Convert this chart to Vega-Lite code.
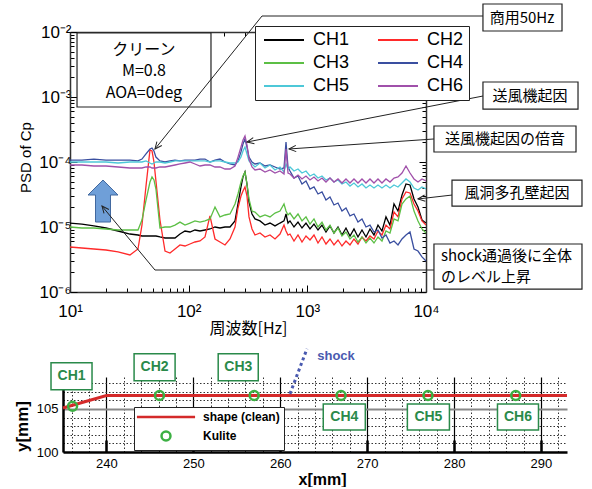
{
"$schema":"https://vega.github.io/schema/vega-lite/v6.json",
"background":"white",
"padding":{"left":12,"top":3,"right":0,"bottom":0},
"columns":1,
"align":"none",
"spacing":6,
"resolve":{"scale":{"color":"independent","shape":"independent","size":"independent","angle":"independent"}},
"datasets":{
"psd":[
{"c":"CH1","f":10,"p":1.15e-5},{"c":"CH1","f":12.6,"p":1.11e-5},{"c":"CH1","f":15.9,"p":1.04e-5},{"c":"CH1","f":20.1,"p":9.65e-6},{"c":"CH1","f":25.4,"p":8.68e-6},{"c":"CH1","f":32,"p":7.80e-6},{"c":"CH1","f":37.4,"p":7.53e-6},{"c":"CH1","f":40.4,"p":7.27e-6},{"c":"CH1","f":43.7,"p":7.27e-6},{"c":"CH1","f":47.2,"p":7.27e-6},{"c":"CH1","f":49.1,"p":7.27e-6},{"c":"CH1","f":51,"p":7.27e-6},{"c":"CH1","f":53,"p":7.27e-6},{"c":"CH1","f":57.3,"p":7.02e-6},{"c":"CH1","f":63.2,"p":6.77e-6},{"c":"CH1","f":69.6,"p":6.77e-6},{"c":"CH1","f":76.7,"p":6.77e-6},{"c":"CH1","f":84.5,"p":7.80e-6},{"c":"CH1","f":93.1,"p":8.68e-6},
{"c":"CH1","f":102.6,"p":8.38e-6},{"c":"CH1","f":113,"p":8.99e-6},{"c":"CH1","f":124.6,"p":8.68e-6},{"c":"CH1","f":137.3,"p":8.99e-6},{"c":"CH1","f":151.2,"p":9.32e-6},{"c":"CH1","f":166.7,"p":1.0e-5},{"c":"CH1","f":183.6,"p":9.65e-6},{"c":"CH1","f":202.4,"p":1.0e-5},{"c":"CH1","f":223,"p":1.0e-5},{"c":"CH1","f":245.7,"p":1.24e-5},{"c":"CH1","f":260.4,"p":2.26e-5},{"c":"CH1","f":276,"p":4.13e-5},{"c":"CH1","f":287,"p":5.88e-5},{"c":"CH1","f":298.3,"p":7.02e-5},{"c":"CH1","f":310,"p":4.59e-5},{"c":"CH1","f":322.4,"p":2.42e-5},{"c":"CH1","f":341.8,"p":1.585e-5},{"c":"CH1","f":362.2,"p":1.33e-5},{"c":"CH1","f":399.2,"p":1.24e-5},{"c":"CH1","f":439.8,"p":1.07e-5},{"c":"CH1","f":484.6,"p":1.15e-5},{"c":"CH1","f":534,"p":1.04e-5},{"c":"CH1","f":588.4,"p":1.15e-5},{"c":"CH1","f":635.9,"p":1.24e-5},{"c":"CH1","f":661.1,"p":1.585e-5},{"c":"CH1","f":687.1,"p":1.15e-5},
{"c":"CH1","f":714.3,"p":1.24e-5},{"c":"CH1","f":772,"p":1.0e-5},{"c":"CH1","f":834.4,"p":1.19e-5},{"c":"CH1","f":901.6,"p":9.65e-6},{"c":"CH1","f":974.3,"p":1.15e-5},{"c":"CH1","f":1053,"p":9.32e-6},{"c":"CH1","f":1138,"p":1.11e-5},{"c":"CH1","f":1230,"p":8.99e-6},{"c":"CH1","f":1329,"p":1.07e-5},{"c":"CH1","f":1436,"p":8.38e-6},{"c":"CH1","f":1552,"p":1.04e-5},{"c":"CH1","f":1677,"p":8.09e-6},{"c":"CH1","f":1813,"p":1.0e-5},{"c":"CH1","f":1959,"p":7.53e-6},{"c":"CH1","f":2117,"p":9.65e-6},{"c":"CH1","f":2288,"p":7.27e-6},{"c":"CH1","f":2473,"p":9.32e-6},{"c":"CH1","f":2672,"p":7.02e-6},{"c":"CH1","f":2888,"p":8.99e-6},{"c":"CH1","f":3121,"p":7.02e-6},{"c":"CH1","f":3373,"p":9.32e-6},{"c":"CH1","f":3645,"p":7.53e-6},{"c":"CH1","f":3939,"p":1.07e-5},{"c":"CH1","f":4257,"p":8.68e-6},{"c":"CH1","f":4600,"p":1.43e-5},{"c":"CH1","f":4973,"p":1.07e-5},{"c":"CH1","f":5374,"p":2.26e-5},{"c":"CH1","f":5808,"p":1.76e-5},{"c":"CH1","f":6277,"p":3.11e-5},{"c":"CH1","f":6782,"p":4.59e-5},{"c":"CH1","f":7331,"p":4.43e-5},{"c":"CH1","f":7922,"p":2.70e-5},{"c":"CH1","f":8561,"p":2.03e-5},{"c":"CH1","f":9252,"p":1.28e-5},{"c":"CH1","f":10000,"p":1.15e-5},
{"c":"CH2","f":10,"p":4.92e-6},{"c":"CH2","f":12.6,"p":4.75e-6},{"c":"CH2","f":15.9,"p":4.59e-6},{"c":"CH2","f":20.1,"p":4.43e-6},{"c":"CH2","f":25.4,"p":4.13e-6},{"c":"CH2","f":32,"p":3.71e-6},{"c":"CH2","f":37.4,"p":4.59e-6},{"c":"CH2","f":40.4,"p":1.07e-5},{"c":"CH2","f":43.7,"p":4.27e-5},{"c":"CH2","f":47.2,"p":1.53e-4},{"c":"CH2","f":49.1,"p":1.48e-4},{"c":"CH2","f":51,"p":1.0e-4},{"c":"CH2","f":53,"p":5.10e-5},{"c":"CH2","f":57.3,"p":1.28e-5},{"c":"CH2","f":63.2,"p":4.27e-6},{"c":"CH2","f":69.6,"p":3.98e-6},{"c":"CH2","f":76.7,"p":4.59e-6},{"c":"CH2","f":84.5,"p":5.29e-6},{"c":"CH2","f":93.1,"p":5.10e-6},
{"c":"CH2","f":102.6,"p":5.48e-6},{"c":"CH2","f":113,"p":5.88e-6},{"c":"CH2","f":124.6,"p":6.09e-6},{"c":"CH2","f":137.3,"p":7.02e-6},{"c":"CH2","f":151.2,"p":1.48e-5},{"c":"CH2","f":166.7,"p":6.54e-6},{"c":"CH2","f":183.6,"p":5.88e-6},{"c":"CH2","f":202.4,"p":5.29e-6},{"c":"CH2","f":223,"p":6.54e-6},{"c":"CH2","f":245.7,"p":1.0e-5},{"c":"CH2","f":260.4,"p":1.96e-5},{"c":"CH2","f":276,"p":3.0e-5},{"c":"CH2","f":287,"p":3.58e-5},{"c":"CH2","f":298.3,"p":4.13e-5},{"c":"CH2","f":310,"p":3.0e-5},{"c":"CH2","f":322.4,"p":1.43e-5},{"c":"CH2","f":341.8,"p":9.32e-6},{"c":"CH2","f":362.2,"p":7.53e-6},{"c":"CH2","f":399.2,"p":8.09e-6},{"c":"CH2","f":439.8,"p":7.02e-6},{"c":"CH2","f":484.6,"p":7.53e-6},{"c":"CH2","f":534,"p":6.54e-6},{"c":"CH2","f":588.4,"p":7.80e-6},{"c":"CH2","f":635.9,"p":1.07e-5},{"c":"CH2","f":661.1,"p":8.68e-6},{"c":"CH2","f":687.1,"p":7.53e-6},
{"c":"CH2","f":714.3,"p":7.80e-6},{"c":"CH2","f":772,"p":6.09e-6},{"c":"CH2","f":834.4,"p":7.53e-6},{"c":"CH2","f":901.6,"p":5.88e-6},{"c":"CH2","f":974.3,"p":7.27e-6},{"c":"CH2","f":1053,"p":6.31e-6},{"c":"CH2","f":1138,"p":7.53e-6},{"c":"CH2","f":1230,"p":5.67e-6},{"c":"CH2","f":1329,"p":7.02e-6},{"c":"CH2","f":1436,"p":5.48e-6},{"c":"CH2","f":1552,"p":6.54e-6},{"c":"CH2","f":1677,"p":5.29e-6},{"c":"CH2","f":1813,"p":6.31e-6},{"c":"CH2","f":1959,"p":5.10e-6},{"c":"CH2","f":2117,"p":6.09e-6},{"c":"CH2","f":2288,"p":5.29e-6},{"c":"CH2","f":2473,"p":6.54e-6},{"c":"CH2","f":2672,"p":5.48e-6},{"c":"CH2","f":2888,"p":7.02e-6},{"c":"CH2","f":3121,"p":6.09e-6},{"c":"CH2","f":3373,"p":7.27e-6},{"c":"CH2","f":3645,"p":6.54e-6},{"c":"CH2","f":3939,"p":8.68e-6},{"c":"CH2","f":4257,"p":7.53e-6},{"c":"CH2","f":4600,"p":1.07e-5},{"c":"CH2","f":4973,"p":9.32e-6},{"c":"CH2","f":5374,"p":1.70e-5},{"c":"CH2","f":5808,"p":1.43e-5},{"c":"CH2","f":6277,"p":2.70e-5},{"c":"CH2","f":6782,"p":3.46e-5},{"c":"CH2","f":7331,"p":3.34e-5},{"c":"CH2","f":7922,"p":2.26e-5},{"c":"CH2","f":8561,"p":1.76e-5},{"c":"CH2","f":9252,"p":1.24e-5},{"c":"CH2","f":10000,"p":1.07e-5},
{"c":"CH3","f":10,"p":1.0e-5},{"c":"CH3","f":12.6,"p":9.65e-6},{"c":"CH3","f":15.9,"p":9.65e-6},{"c":"CH3","f":20.1,"p":9.32e-6},{"c":"CH3","f":25.4,"p":8.99e-6},{"c":"CH3","f":32,"p":8.99e-6},{"c":"CH3","f":37.4,"p":8.99e-6},{"c":"CH3","f":40.4,"p":1.28e-5},{"c":"CH3","f":43.7,"p":2.60e-5},{"c":"CH3","f":47.2,"p":4.92e-5},{"c":"CH3","f":49.1,"p":5.88e-5},{"c":"CH3","f":51,"p":5.29e-5},{"c":"CH3","f":53,"p":3.84e-5},{"c":"CH3","f":57.3,"p":9.65e-6},{"c":"CH3","f":63.2,"p":1.0e-5},{"c":"CH3","f":69.6,"p":1.0e-5},{"c":"CH3","f":76.7,"p":1.07e-5},{"c":"CH3","f":84.5,"p":1.19e-5},{"c":"CH3","f":93.1,"p":1.07e-5},
{"c":"CH3","f":102.6,"p":1.15e-5},{"c":"CH3","f":113,"p":1.24e-5},{"c":"CH3","f":124.6,"p":1.19e-5},{"c":"CH3","f":137.3,"p":1.24e-5},{"c":"CH3","f":151.2,"p":1.33e-5},{"c":"CH3","f":166.7,"p":2.03e-5},{"c":"CH3","f":183.6,"p":1.43e-5},{"c":"CH3","f":202.4,"p":1.53e-5},{"c":"CH3","f":223,"p":1.585e-5},{"c":"CH3","f":245.7,"p":2.26e-5},{"c":"CH3","f":260.4,"p":3.22e-5},{"c":"CH3","f":276,"p":4.92e-5},{"c":"CH3","f":287,"p":6.09e-5},{"c":"CH3","f":298.3,"p":7.02e-5},{"c":"CH3","f":310,"p":4.59e-5},{"c":"CH3","f":322.4,"p":2.70e-5},{"c":"CH3","f":341.8,"p":1.76e-5},{"c":"CH3","f":362.2,"p":1.70e-5},{"c":"CH3","f":399.2,"p":1.43e-5},{"c":"CH3","f":439.8,"p":1.53e-5},{"c":"CH3","f":484.6,"p":1.43e-5},{"c":"CH3","f":534,"p":1.64e-5},{"c":"CH3","f":588.4,"p":1.76e-5},{"c":"CH3","f":635.9,"p":2.26e-5},{"c":"CH3","f":661.1,"p":1.76e-5},{"c":"CH3","f":687.1,"p":1.53e-5},
{"c":"CH3","f":714.3,"p":1.64e-5},{"c":"CH3","f":772,"p":1.33e-5},{"c":"CH3","f":834.4,"p":1.585e-5},{"c":"CH3","f":901.6,"p":1.24e-5},{"c":"CH3","f":974.3,"p":1.43e-5},{"c":"CH3","f":1053,"p":1.11e-5},{"c":"CH3","f":1138,"p":1.33e-5},{"c":"CH3","f":1230,"p":1.0e-5},{"c":"CH3","f":1329,"p":1.19e-5},{"c":"CH3","f":1436,"p":8.99e-6},{"c":"CH3","f":1552,"p":1.07e-5},{"c":"CH3","f":1677,"p":8.09e-6},{"c":"CH3","f":1813,"p":9.65e-6},{"c":"CH3","f":1959,"p":7.27e-6},{"c":"CH3","f":2117,"p":8.38e-6},{"c":"CH3","f":2288,"p":6.54e-6},{"c":"CH3","f":2473,"p":7.53e-6},{"c":"CH3","f":2672,"p":5.88e-6},{"c":"CH3","f":2888,"p":7.02e-6},{"c":"CH3","f":3121,"p":5.67e-6},{"c":"CH3","f":3373,"p":6.77e-6},{"c":"CH3","f":3645,"p":5.67e-6},{"c":"CH3","f":3939,"p":7.02e-6},{"c":"CH3","f":4257,"p":6.09e-6},{"c":"CH3","f":4600,"p":8.68e-6},{"c":"CH3","f":4973,"p":8.09e-6},{"c":"CH3","f":5374,"p":1.33e-5},{"c":"CH3","f":5808,"p":1.24e-5},{"c":"CH3","f":6277,"p":2.26e-5},{"c":"CH3","f":6782,"p":2.70e-5},{"c":"CH3","f":7331,"p":3.0e-5},{"c":"CH3","f":7922,"p":1.76e-5},{"c":"CH3","f":8561,"p":1.24e-5},{"c":"CH3","f":9252,"p":9.32e-6},{"c":"CH3","f":10000,"p":8.09e-6},
{"c":"CH4","f":10,"p":1.07e-4},{"c":"CH4","f":12.6,"p":1.07e-4},{"c":"CH4","f":15.9,"p":1.11e-4},{"c":"CH4","f":20.1,"p":1.07e-4},{"c":"CH4","f":25.4,"p":1.07e-4},{"c":"CH4","f":32,"p":1.07e-4},{"c":"CH4","f":37.4,"p":1.04e-4},{"c":"CH4","f":40.4,"p":1.11e-4},{"c":"CH4","f":43.7,"p":1.33e-4},{"c":"CH4","f":47.2,"p":1.585e-4},{"c":"CH4","f":49.1,"p":1.64e-4},{"c":"CH4","f":51,"p":1.48e-4},{"c":"CH4","f":53,"p":1.19e-4},{"c":"CH4","f":57.3,"p":1.04e-4},{"c":"CH4","f":63.2,"p":1.0e-4},{"c":"CH4","f":69.6,"p":1.04e-4},{"c":"CH4","f":76.7,"p":1.07e-4},{"c":"CH4","f":84.5,"p":1.04e-4},{"c":"CH4","f":93.1,"p":1.07e-4},
{"c":"CH4","f":102.6,"p":1.07e-4},{"c":"CH4","f":113,"p":1.07e-4},{"c":"CH4","f":124.6,"p":1.11e-4},{"c":"CH4","f":137.3,"p":1.11e-4},{"c":"CH4","f":151.2,"p":1.0e-4},{"c":"CH4","f":166.7,"p":1.07e-4},{"c":"CH4","f":183.6,"p":1.11e-4},{"c":"CH4","f":202.4,"p":1.0e-4},{"c":"CH4","f":223,"p":9.32e-5},{"c":"CH4","f":245.7,"p":8.99e-5},{"c":"CH4","f":260.4,"p":1.04e-4},{"c":"CH4","f":276,"p":1.43e-4},{"c":"CH4","f":287,"p":1.89e-4},{"c":"CH4","f":298.3,"p":2.26e-4},{"c":"CH4","f":310,"p":1.70e-4},{"c":"CH4","f":322.4,"p":1.19e-4},{"c":"CH4","f":341.8,"p":1.0e-4},{"c":"CH4","f":362.2,"p":9.32e-5},{"c":"CH4","f":399.2,"p":9.65e-5},{"c":"CH4","f":439.8,"p":8.68e-5},{"c":"CH4","f":484.6,"p":8.99e-5},{"c":"CH4","f":534,"p":8.38e-5},{"c":"CH4","f":588.4,"p":7.80e-5},{"c":"CH4","f":635.9,"p":8.09e-5},{"c":"CH4","f":661.1,"p":2.03e-4},{"c":"CH4","f":687.1,"p":8.38e-5},
{"c":"CH4","f":714.3,"p":7.27e-5},{"c":"CH4","f":772,"p":5.67e-5},{"c":"CH4","f":834.4,"p":6.09e-5},{"c":"CH4","f":901.6,"p":4.59e-5},{"c":"CH4","f":974.3,"p":5.10e-5},{"c":"CH4","f":1053,"p":3.84e-5},{"c":"CH4","f":1138,"p":4.13e-5},{"c":"CH4","f":1230,"p":3.22e-5},{"c":"CH4","f":1329,"p":3.46e-5},{"c":"CH4","f":1436,"p":2.60e-5},{"c":"CH4","f":1552,"p":2.89e-5},{"c":"CH4","f":1677,"p":2.18e-5},{"c":"CH4","f":1813,"p":2.34e-5},{"c":"CH4","f":1959,"p":1.76e-5},{"c":"CH4","f":2117,"p":1.96e-5},{"c":"CH4","f":2288,"p":1.48e-5},{"c":"CH4","f":2473,"p":1.585e-5},{"c":"CH4","f":2672,"p":1.19e-5},{"c":"CH4","f":2888,"p":1.33e-5},{"c":"CH4","f":3121,"p":1.0e-5},{"c":"CH4","f":3373,"p":1.07e-5},{"c":"CH4","f":3645,"p":8.38e-6},{"c":"CH4","f":3939,"p":8.99e-6},{"c":"CH4","f":4257,"p":6.77e-6},{"c":"CH4","f":4600,"p":7.53e-6},{"c":"CH4","f":4973,"p":5.67e-6},{"c":"CH4","f":5374,"p":6.09e-6},{"c":"CH4","f":5808,"p":5.29e-6},{"c":"CH4","f":6277,"p":6.54e-6},{"c":"CH4","f":6782,"p":7.53e-6},{"c":"CH4","f":7331,"p":8.38e-6},{"c":"CH4","f":7922,"p":4.59e-6},{"c":"CH4","f":8561,"p":4.27e-6},{"c":"CH4","f":9252,"p":3.46e-6},{"c":"CH4","f":10000,"p":3.0e-6},
{"c":"CH5","f":10,"p":1.0e-4},{"c":"CH5","f":12.6,"p":1.0e-4},{"c":"CH5","f":15.9,"p":1.0e-4},{"c":"CH5","f":20.1,"p":1.0e-4},{"c":"CH5","f":25.4,"p":9.65e-5},{"c":"CH5","f":32,"p":1.0e-4},{"c":"CH5","f":37.4,"p":1.0e-4},{"c":"CH5","f":40.4,"p":1.0e-4},{"c":"CH5","f":43.7,"p":1.04e-4},{"c":"CH5","f":47.2,"p":9.65e-5},{"c":"CH5","f":49.1,"p":9.32e-5},{"c":"CH5","f":51,"p":9.65e-5},{"c":"CH5","f":53,"p":1.0e-4},{"c":"CH5","f":57.3,"p":1.0e-4},{"c":"CH5","f":63.2,"p":9.65e-5},{"c":"CH5","f":69.6,"p":1.0e-4},{"c":"CH5","f":76.7,"p":1.04e-4},{"c":"CH5","f":84.5,"p":1.04e-4},{"c":"CH5","f":93.1,"p":1.04e-4},
{"c":"CH5","f":102.6,"p":1.04e-4},{"c":"CH5","f":113,"p":1.04e-4},{"c":"CH5","f":124.6,"p":1.04e-4},{"c":"CH5","f":137.3,"p":1.04e-4},{"c":"CH5","f":151.2,"p":1.0e-4},{"c":"CH5","f":166.7,"p":1.04e-4},{"c":"CH5","f":183.6,"p":1.04e-4},{"c":"CH5","f":202.4,"p":1.0e-4},{"c":"CH5","f":223,"p":9.65e-5},{"c":"CH5","f":245.7,"p":9.65e-5},{"c":"CH5","f":260.4,"p":1.0e-4},{"c":"CH5","f":276,"p":1.19e-4},{"c":"CH5","f":287,"p":1.48e-4},{"c":"CH5","f":298.3,"p":1.70e-4},{"c":"CH5","f":310,"p":1.33e-4},{"c":"CH5","f":322.4,"p":1.04e-4},{"c":"CH5","f":341.8,"p":9.32e-5},{"c":"CH5","f":362.2,"p":8.38e-5},{"c":"CH5","f":399.2,"p":9.65e-5},{"c":"CH5","f":439.8,"p":8.09e-5},{"c":"CH5","f":484.6,"p":8.99e-5},{"c":"CH5","f":534,"p":7.53e-5},{"c":"CH5","f":588.4,"p":8.38e-5},{"c":"CH5","f":635.9,"p":7.02e-5},{"c":"CH5","f":661.1,"p":9.32e-5},{"c":"CH5","f":687.1,"p":7.80e-5},
{"c":"CH5","f":714.3,"p":8.38e-5},{"c":"CH5","f":772,"p":7.27e-5},{"c":"CH5","f":834.4,"p":7.80e-5},{"c":"CH5","f":901.6,"p":6.77e-5},{"c":"CH5","f":974.3,"p":7.27e-5},{"c":"CH5","f":1053,"p":6.09e-5},{"c":"CH5","f":1138,"p":6.54e-5},{"c":"CH5","f":1230,"p":5.67e-5},{"c":"CH5","f":1329,"p":6.09e-5},{"c":"CH5","f":1436,"p":5.29e-5},{"c":"CH5","f":1552,"p":5.67e-5},{"c":"CH5","f":1677,"p":4.92e-5},{"c":"CH5","f":1813,"p":5.29e-5},{"c":"CH5","f":1959,"p":4.59e-5},{"c":"CH5","f":2117,"p":4.92e-5},{"c":"CH5","f":2288,"p":4.27e-5},{"c":"CH5","f":2473,"p":4.75e-5},{"c":"CH5","f":2672,"p":4.13e-5},{"c":"CH5","f":2888,"p":4.59e-5},{"c":"CH5","f":3121,"p":3.98e-5},{"c":"CH5","f":3373,"p":4.43e-5},{"c":"CH5","f":3645,"p":3.98e-5},{"c":"CH5","f":3939,"p":4.43e-5},{"c":"CH5","f":4257,"p":3.98e-5},{"c":"CH5","f":4600,"p":4.43e-5},{"c":"CH5","f":4973,"p":3.98e-5},{"c":"CH5","f":5374,"p":4.43e-5},{"c":"CH5","f":5808,"p":4.13e-5},{"c":"CH5","f":6277,"p":4.75e-5},{"c":"CH5","f":6782,"p":5.48e-5},{"c":"CH5","f":7331,"p":4.92e-5},{"c":"CH5","f":7922,"p":3.98e-5},{"c":"CH5","f":8561,"p":3.71e-5},{"c":"CH5","f":9252,"p":4.13e-5},{"c":"CH5","f":10000,"p":3.84e-5},
{"c":"CH6","f":10,"p":8.99e-5},{"c":"CH6","f":12.6,"p":8.99e-5},{"c":"CH6","f":15.9,"p":8.68e-5},{"c":"CH6","f":20.1,"p":8.68e-5},{"c":"CH6","f":25.4,"p":8.38e-5},{"c":"CH6","f":32,"p":8.09e-5},{"c":"CH6","f":37.4,"p":8.09e-5},{"c":"CH6","f":40.4,"p":8.09e-5},{"c":"CH6","f":43.7,"p":8.38e-5},{"c":"CH6","f":47.2,"p":8.38e-5},{"c":"CH6","f":49.1,"p":8.09e-5},{"c":"CH6","f":51,"p":8.09e-5},{"c":"CH6","f":53,"p":8.09e-5},{"c":"CH6","f":57.3,"p":8.38e-5},{"c":"CH6","f":63.2,"p":8.38e-5},{"c":"CH6","f":69.6,"p":8.68e-5},{"c":"CH6","f":76.7,"p":8.99e-5},{"c":"CH6","f":84.5,"p":9.32e-5},{"c":"CH6","f":93.1,"p":9.65e-5},
{"c":"CH6","f":102.6,"p":1.0e-4},{"c":"CH6","f":113,"p":9.32e-5},{"c":"CH6","f":124.6,"p":8.68e-5},{"c":"CH6","f":137.3,"p":8.99e-5},{"c":"CH6","f":151.2,"p":8.99e-5},{"c":"CH6","f":166.7,"p":8.38e-5},{"c":"CH6","f":183.6,"p":8.38e-5},{"c":"CH6","f":202.4,"p":7.80e-5},{"c":"CH6","f":223,"p":7.80e-5},{"c":"CH6","f":245.7,"p":8.68e-5},{"c":"CH6","f":260.4,"p":1.19e-4},{"c":"CH6","f":276,"p":1.70e-4},{"c":"CH6","f":287,"p":2.18e-4},{"c":"CH6","f":298.3,"p":2.51e-4},{"c":"CH6","f":310,"p":1.83e-4},{"c":"CH6","f":322.4,"p":1.11e-4},{"c":"CH6","f":341.8,"p":8.38e-5},{"c":"CH6","f":362.2,"p":7.53e-5},{"c":"CH6","f":399.2,"p":7.80e-5},{"c":"CH6","f":439.8,"p":7.02e-5},{"c":"CH6","f":484.6,"p":7.53e-5},{"c":"CH6","f":534,"p":6.77e-5},{"c":"CH6","f":588.4,"p":7.27e-5},{"c":"CH6","f":635.9,"p":6.54e-5},{"c":"CH6","f":661.1,"p":1.585e-4},{"c":"CH6","f":687.1,"p":6.77e-5},
{"c":"CH6","f":714.3,"p":6.54e-5},{"c":"CH6","f":772,"p":5.67e-5},{"c":"CH6","f":834.4,"p":6.31e-5},{"c":"CH6","f":901.6,"p":5.48e-5},{"c":"CH6","f":974.3,"p":6.09e-5},{"c":"CH6","f":1053,"p":5.29e-5},{"c":"CH6","f":1138,"p":5.88e-5},{"c":"CH6","f":1230,"p":5.10e-5},{"c":"CH6","f":1329,"p":5.67e-5},{"c":"CH6","f":1436,"p":4.92e-5},{"c":"CH6","f":1552,"p":5.67e-5},{"c":"CH6","f":1677,"p":4.92e-5},{"c":"CH6","f":1813,"p":5.48e-5},{"c":"CH6","f":1959,"p":4.75e-5},{"c":"CH6","f":2117,"p":5.48e-5},{"c":"CH6","f":2288,"p":4.75e-5},{"c":"CH6","f":2473,"p":5.48e-5},{"c":"CH6","f":2672,"p":4.75e-5},{"c":"CH6","f":2888,"p":5.48e-5},{"c":"CH6","f":3121,"p":4.75e-5},{"c":"CH6","f":3373,"p":5.48e-5},{"c":"CH6","f":3645,"p":4.75e-5},{"c":"CH6","f":3939,"p":5.48e-5},{"c":"CH6","f":4257,"p":4.75e-5},{"c":"CH6","f":4600,"p":5.48e-5},{"c":"CH6","f":4973,"p":4.92e-5},{"c":"CH6","f":5374,"p":5.67e-5},{"c":"CH6","f":5808,"p":5.88e-5},{"c":"CH6","f":6277,"p":6.77e-5},{"c":"CH6","f":6782,"p":8.68e-5},{"c":"CH6","f":7331,"p":6.77e-5},{"c":"CH6","f":7922,"p":5.48e-5},{"c":"CH6","f":8561,"p":4.92e-5},{"c":"CH6","f":9252,"p":5.48e-5},{"c":"CH6","f":10000,"p":5.10e-5}
],
"tboxes":[
{"x1":30200,"x2":140000,"y1":0.02698,"y2":0.01036},
{"x1":30200,"x2":191000,"y1":0.001702,"y2":0.000653},
{"x1":11670,"x2":183700,"y1":0.000358,"y2":0.0001425},
{"x1":16560,"x2":206300,"y1":0.0000528,"y2":0.000021},
{"x1":11670,"x2":206300,"y1":0.00000548,"y2":0.00000111},
{"x1":11.46,"x2":154.2,"y1":0.00965,"y2":0.000702}
],
"tlines":[
{"x1":30200,"y1":0.01762,"x2":415,"y2":0.01762},
{"x1":415,"y1":0.01762,"x2":52,"y2":0.0001585},
{"x1":30200,"y1":0.001035,"x2":310,"y2":0.000203},
{"x1":11670,"y1":0.000226,"x2":701,"y2":0.0001585},
{"x1":16560,"y1":0.000031,"x2":8560,"y2":0.000027},
{"x1":11670,"y1":0.00000218,"x2":52,"y2":0.00000218},
{"x1":52,"y1":0.00000218,"x2":18.6,"y2":0.000021}
],
"theads":[
{"k":1,"f":52,"p":0.0001585},{"k":2,"f":310,"p":0.000203},{"k":3,"f":701,"p":0.0001585},{"k":4,"f":8560,"p":0.000027},{"k":5,"f":18.6,"p":0.000021}
],
"tlabels":[
{"t":"商用50Hz","f":64400,"p":0.0164},{"t":"送風機起因","f":75200,"p":0.001035},{"t":"送風機起因の倍音","f":46300,"p":0.000226},{"t":"風洞多孔壁起因","f":58500,"p":0.0000333}
],
"tshock":[
{"t":"shock通過後に全体","f":13370,"p":0.00000358},{"t":"のレベル上昇","f":13370,"p":0.0000017}
],
"tclean":[
{"t":"クリーン","f":42,"p":0.00530},{"t":"M=0.8","f":42,"p":0.00251},{"t":"AOA=0deg","f":42,"p":0.001153}
],
"shape":[
{"x":235,"y":105.1},{"x":240,"y":106.55},{"x":293,"y":106.55}
],
"kulite":[
{"s":"Kulite","ch":"CH1","x":236.1,"y":105.3},{"s":"Kulite","ch":"CH2","x":246.1,"y":106.55},{"s":"Kulite","ch":"CH3","x":257,"y":106.55},{"s":"Kulite","ch":"CH4","x":267,"y":106.55},{"s":"Kulite","ch":"CH5","x":277,"y":106.55},{"s":"Kulite","ch":"CH6","x":287.1,"y":106.55}
],
"shock":[{"x":261.12,"y":106.74},{"x":263.08,"y":111.98}],
"chbox":[
{"ch":"CH1","x1":233.62,"x2":238.34,"y1":107.21,"y2":110.35,"cx":235.98,"cy":108.78},
{"ch":"CH2","x1":243.18,"x2":247.9,"y1":108.26,"y2":111.4,"cx":245.54,"cy":109.83},
{"ch":"CH3","x1":252.86,"x2":257.47,"y1":108.26,"y2":111.4,"cx":255.17,"cy":109.83},
{"ch":"CH4","x1":264.95,"x2":269.79,"y1":102.56,"y2":105.58,"cx":267.37,"cy":104.07},
{"ch":"CH5","x1":274.63,"x2":279.47,"y1":102.56,"y2":105.58,"cx":277.05,"cy":104.07},
{"ch":"CH6","x1":285.0,"x2":289.72,"y1":102.56,"y2":105.58,"cx":287.36,"cy":104.07}
]
},
"concat":[
{
"width":363,"height":260,
"view":{"stroke":null},
"resolve":{"axis":{"x":"independent","y":"independent"}},
"layer":[
{"data":{"name":"psd"},"mark":{"type":"line","strokeWidth":1.3,"clip":true},
"encoding":{
"x":{"field":"f","type":"quantitative","scale":{"type":"log","domain":[10,10000],"nice":false,"range":[7,363]},
"axis":{"orient":"bottom","values":[10,20,30,40,50,60,70,80,90,100,200,300,400,500,600,700,800,900,1000,2000,3000,4000,5000,6000,7000,8000,9000,10000],
"labelExpr":"datum.value==10?'10¹':datum.value==100?'10²':datum.value==1000?'10³':datum.value==10000?'10⁴':''",
"labelFont":"Liberation Sans","labelFontSize":17,"labelColor":"#000","labelPadding":18,"labelFlush":false,"labelOverlap":false,"labelBound":false,
"tickColor":"#000","tickWidth":1,"tickSize":{"condition":{"test":"datum.value==10||datum.value==100||datum.value==1000||datum.value==10000","value":-7},"value":-4},
"domain":true,"domainColor":"#333","domainWidth":1.5,"grid":false,"title":"周波数[Hz]","titleFont":"Noto Sans CJK JP","titleFontSize":16,"titleFontWeight":"normal","titleColor":"#000","titleY":36,"titleBaseline":"middle"}},
"y":{"field":"p","type":"quantitative","scale":{"type":"log","domain":[0.000001,0.01],"nice":false},
"axis":{"orient":"left","offset":-7,"values":[0.000001,0.000002,0.000003,0.000004,0.000005,0.000006,0.000007,0.000008,0.000009,0.00001,0.00002,0.00003,0.00004,0.00005,0.00006,0.00007,0.00008,0.00009,0.0001,0.0002,0.0003,0.0004,0.0005,0.0006,0.0007,0.0008,0.0009,0.001,0.002,0.003,0.004,0.005,0.006,0.007,0.008,0.009,0.01],
"labelExpr":"datum.value==0.01?'10⁻²':datum.value==0.001?'10⁻³':datum.value==0.0001?'10⁻⁴':datum.value==0.00001?'10⁻⁵':datum.value==0.000001?'10⁻⁶':''",
"labelFont":"Liberation Sans","labelFontSize":17,"labelColor":"#000","labelPadding":6,"labelOverlap":false,"labelBound":false,"labelFlush":false,
"tickColor":"#000","tickWidth":1,"tickSize":{"condition":{"test":"datum.value==0.01||datum.value==0.001||datum.value==0.0001||datum.value==0.00001||datum.value==0.000001","value":-7},"value":-4},
"domain":true,"domainColor":"#333","domainWidth":1.5,"grid":false,"title":"PSD of Cp","titleFont":"Liberation Sans","titleFontSize":15,"titleFontWeight":"normal","titleColor":"#000","titleX":-45,"titleY":125,"titleAngle":-90,"titleBaseline":"middle","titleAlign":"center"}},
"color":{"field":"c","type":"nominal","scale":{"domain":["CH1","CH3","CH5","CH2","CH4","CH6"],"range":["#000000","#5cbf45","#4dc8d8","#ff2a2a","#3a4fa0","#a050aa"]},
"legend":{"orient":"none","legendX":192,"legendY":-6,"columns":2,"title":null,"symbolType":"M -4 0 L 4 0","symbolSize":100,"symbolStrokeWidth":2,"symbolOffset":15,"labelFont":"Liberation Sans","labelFontSize":18,"labelColor":"#000","strokeColor":"#222","fillColor":"white","padding":5,"columnPadding":24,"rowPadding":5,"labelOffset":20}}
}},
{"data":{"values":[{"f":100,"p":0.0001}]},"mark":{"type":"point","opacity":0},
"encoding":{
"x":{"field":"f","type":"quantitative","scale":{"type":"log","domain":[10,10000],"nice":false,"range":[7,363]},
"axis":{"orient":"top","values":[10,20,30,40,50,60,70,80,90,100,200,300,400,500,600,700,800,900,1000,2000,3000,4000,5000,6000,7000,8000,9000,10000],"labels":false,"domain":true,"domainColor":"#333","domainWidth":1.5,"grid":false,"title":null,"tickColor":"#000","tickSize":{"condition":{"test":"datum.value==10||datum.value==100||datum.value==1000||datum.value==10000","value":-7},"value":-4}}},
"y":{"field":"p","type":"quantitative","scale":{"type":"log","domain":[0.000001,0.01],"nice":false},
"axis":{"orient":"right","values":[0.000001,0.000002,0.000003,0.000004,0.000005,0.000006,0.000007,0.000008,0.000009,0.00001,0.00002,0.00003,0.00004,0.00005,0.00006,0.00007,0.00008,0.00009,0.0001,0.0002,0.0003,0.0004,0.0005,0.0006,0.0007,0.0008,0.0009,0.001,0.002,0.003,0.004,0.005,0.006,0.007,0.008,0.009,0.01],"labels":false,"domain":true,"domainColor":"#333","domainWidth":1.5,"grid":false,"title":null,"tickColor":"#000","tickSize":{"condition":{"test":"datum.value==0.01||datum.value==0.001||datum.value==0.0001||datum.value==0.00001||datum.value==0.000001","value":-7},"value":-4}}}
}},
{"data":{"values":[{"f":18.97,"p":0.0000251}]},"mark":{"type":"point","shape":"M 0 -1 L 0.714 -0.286 L 0.357 -0.286 L 0.357 1 L -0.357 1 L -0.357 -0.286 L -0.714 -0.286 Z","size":1764,"filled":true,"fill":"#6f9fd8","stroke":"#41689f","strokeWidth":1,"opacity":1},
"encoding":{"x":{"field":"f","type":"quantitative","scale":{"type":"log","domain":[10,10000],"nice":false,"range":[7,363]},"axis":null},"y":{"field":"p","type":"quantitative","scale":{"type":"log","domain":[0.000001,0.01],"nice":false},"axis":null}}},
{"data":{"name":"tboxes"},"mark":{"type":"rect","fill":"white","stroke":"#222","strokeWidth":1.2},
"encoding":{"x":{"field":"x1","type":"quantitative","scale":{"type":"log","domain":[10,10000],"nice":false,"range":[7,363]},"axis":null},"x2":{"field":"x2"},"y":{"field":"y1","type":"quantitative","scale":{"type":"log","domain":[0.000001,0.01],"nice":false},"axis":null},"y2":{"field":"y2"}}},
{"data":{"name":"tlines"},"mark":{"type":"rule","color":"#222","strokeWidth":1},
"encoding":{"x":{"field":"x1","type":"quantitative","scale":{"type":"log","domain":[10,10000],"nice":false,"range":[7,363]},"axis":null},"x2":{"field":"x2"},"y":{"field":"y1","type":"quantitative","scale":{"type":"log","domain":[0.000001,0.01],"nice":false},"axis":null},"y2":{"field":"y2"}}},
{"data":{"name":"theads"},"mark":{"type":"point","shape":"M -1 -0.45 L 0 0 L -1 0.45","size":196,"filled":false,"stroke":"#222","strokeWidth":1,"opacity":1},
"encoding":{"x":{"field":"f","type":"quantitative","scale":{"type":"log","domain":[10,10000],"nice":false,"range":[7,363]},"axis":null},"y":{"field":"p","type":"quantitative","scale":{"type":"log","domain":[0.000001,0.01],"nice":false},"axis":null},
"angle":{"field":"k","type":"quantitative","scale":{"domain":[1,2,3,4,5],"range":[128.8,169,176,173,230.4]},"legend":null}}},
{"data":{"name":"tlabels"},"mark":{"type":"text","font":"Noto Sans CJK JP","fontSize":15,"color":"#000","align":"center","baseline":"middle"},
"encoding":{"x":{"field":"f","type":"quantitative","scale":{"type":"log","domain":[10,10000],"nice":false,"range":[7,363]},"axis":null},"y":{"field":"p","type":"quantitative","scale":{"type":"log","domain":[0.000001,0.01],"nice":false},"axis":null},"text":{"field":"t"}}},
{"data":{"name":"tshock"},"mark":{"type":"text","font":"Noto Sans CJK JP","fontSize":15,"color":"#000","align":"left","baseline":"middle"},
"encoding":{"x":{"field":"f","type":"quantitative","scale":{"type":"log","domain":[10,10000],"nice":false,"range":[7,363]},"axis":null},"y":{"field":"p","type":"quantitative","scale":{"type":"log","domain":[0.000001,0.01],"nice":false},"axis":null},"text":{"field":"t"}}},
{"data":{"name":"tclean"},"mark":{"type":"text","font":"Noto Sans CJK JP","fontSize":16,"color":"#000","align":"center","baseline":"middle"},
"encoding":{"x":{"field":"f","type":"quantitative","scale":{"type":"log","domain":[10,10000],"nice":false,"range":[7,363]},"axis":null},"y":{"field":"p","type":"quantitative","scale":{"type":"log","domain":[0.000001,0.01],"nice":false},"axis":null},"text":{"field":"t"}}}
]
},
{
"width":504,"height":75,
"view":{"stroke":null},
"resolve":{"axis":{"x":"independent","y":"independent"}},
"layer":[
{"data":{"name":"shape"},"mark":{"type":"line","strokeWidth":3,"color":"#d42a2a"},
"encoding":{
"x":{"field":"x","type":"quantitative","scale":{"domain":[235,293],"nice":false,"zero":false},
"axis":{"values":[236,238,240,242,244,246,248,250,252,254,256,258,260,262,264,266,268,270,272,274,276,278,280,282,284,286,288,290,292],
"labelExpr":"datum.value % 10 == 0 ? datum.label : ''","labelFont":"Liberation Sans","labelFontSize":13,"labelColor":"#000","labelPadding":17,"labelOverlap":false,"labelFlush":false,
"grid":true,"gridColor":{"condition":{"test":"datum.value % 10 == 0","value":"#000"},"value":"#333"},"gridDash":{"condition":{"test":"datum.value % 10 == 0","value":[]},"value":[1.5,2]},"gridWidth":{"condition":{"test":"datum.value % 10 == 0","value":1.2},"value":1},
"tickColor":"#000","tickWidth":2.5,"tickSize":{"condition":{"test":"datum.value % 10 == 0","value":-12},"value":0},
"domain":true,"domainColor":"#000","domainWidth":2.5,"title":"x[mm]","titleFont":"Liberation Sans","titleFontSize":16,"titleFontWeight":"bold","titleColor":"#000","titleX":259,"titleY":27,"titleBaseline":"middle"}},
"y":{"field":"y","type":"quantitative","scale":{"domain":[100,108.7],"nice":false,"zero":false},
"axis":{"values":[100,101,102,103,104,105,106,107,108],
"labelExpr":"datum.value == 100 || datum.value == 105 ? datum.label : ''","labelFont":"Liberation Sans","labelFontSize":13,"labelColor":"#000","labelPadding":5,"labelOverlap":false,"labelFlush":false,
"grid":true,"gridColor":{"condition":{"test":"datum.value == 105","value":"#888"},"value":"#333"},"gridDash":{"condition":{"test":"datum.value == 105","value":[]},"value":[1.5,2]},"gridWidth":{"condition":{"test":"datum.value == 105","value":2},"value":1},
"ticks":false,"domain":true,"domainColor":"#000","domainWidth":2.5,"title":"y[mm]","titleFont":"Liberation Sans","titleFontSize":17,"titleFontWeight":"bold","titleColor":"#000","titleX":-41,"titleY":49,"titleAngle":-90,"titleBaseline":"middle","titleAlign":"center"}}
}},
{"data":{"name":"kulite"},"mark":{"type":"point","filled":false,"strokeWidth":2.5,"size":80,"opacity":1},
"encoding":{
"x":{"field":"x","type":"quantitative","scale":{"domain":[235,293],"nice":false,"zero":false},"axis":null},
"y":{"field":"y","type":"quantitative","scale":{"domain":[100,108.7],"nice":false,"zero":false},"axis":null},
"color":{"field":"s","type":"nominal","scale":{"domain":["shape (clean)","Kulite"],"range":["#d42a2a","#3cb043"]},
"legend":{"orient":"none","legendX":71,"legendY":30,"title":null,"labelFont":"Liberation Sans","labelFontSize":12,"labelFontWeight":"bold","labelColor":"#000","strokeColor":"#222","fillColor":"white","padding":4,"rowPadding":3,"symbolSize":80,"symbolStrokeWidth":2.5,"symbolOffset":22,"labelOffset":31}},
"shape":{"field":"s","type":"nominal","scale":{"domain":["shape (clean)","Kulite"],"range":["M -6.5 0 L 6.5 0","circle"]},
"legend":{"orient":"none","legendX":71,"legendY":30,"title":null,"labelFont":"Liberation Sans","labelFontSize":12,"labelFontWeight":"bold","labelColor":"#000","strokeColor":"#222","fillColor":"white","padding":4,"rowPadding":3,"symbolSize":80,"symbolStrokeWidth":2.5,"symbolOffset":22,"labelOffset":31}}
}},
{"data":{"name":"shock"},"mark":{"type":"line","color":"#4a5ab0","strokeWidth":3,"strokeDash":[3,3]},
"encoding":{"x":{"field":"x","type":"quantitative","scale":{"domain":[235,293],"nice":false,"zero":false},"axis":null},"y":{"field":"y","type":"quantitative","scale":{"domain":[100,108.7],"nice":false,"zero":false},"axis":null}}},
{"data":{"values":[{"t":"shock","x":266.42,"y":111.16}]},"mark":{"type":"text","font":"Liberation Sans","fontSize":13,"fontWeight":"bold","color":"#4a5ab0","align":"center","baseline":"middle"},
"encoding":{"x":{"field":"x","type":"quantitative","scale":{"domain":[235,293],"nice":false,"zero":false},"axis":null},"y":{"field":"y","type":"quantitative","scale":{"domain":[100,108.7],"nice":false,"zero":false},"axis":null},"text":{"field":"t"}}},
{"data":{"name":"chbox"},"mark":{"type":"rect","fill":"white","stroke":"#2a8a4a","strokeWidth":1.5},
"encoding":{"x":{"field":"x1","type":"quantitative","scale":{"domain":[235,293],"nice":false,"zero":false},"axis":null},"x2":{"field":"x2"},"y":{"field":"y1","type":"quantitative","scale":{"domain":[100,108.7],"nice":false,"zero":false},"axis":null},"y2":{"field":"y2"}}},
{"data":{"name":"chbox"},"mark":{"type":"text","font":"Liberation Sans","fontSize":14,"fontWeight":"bold","color":"#2a8a4a","align":"center","baseline":"middle"},
"encoding":{"x":{"field":"cx","type":"quantitative","scale":{"domain":[235,293],"nice":false,"zero":false},"axis":null},"y":{"field":"cy","type":"quantitative","scale":{"domain":[100,108.7],"nice":false,"zero":false},"axis":null},"text":{"field":"ch"}}}
]
}
]
}
